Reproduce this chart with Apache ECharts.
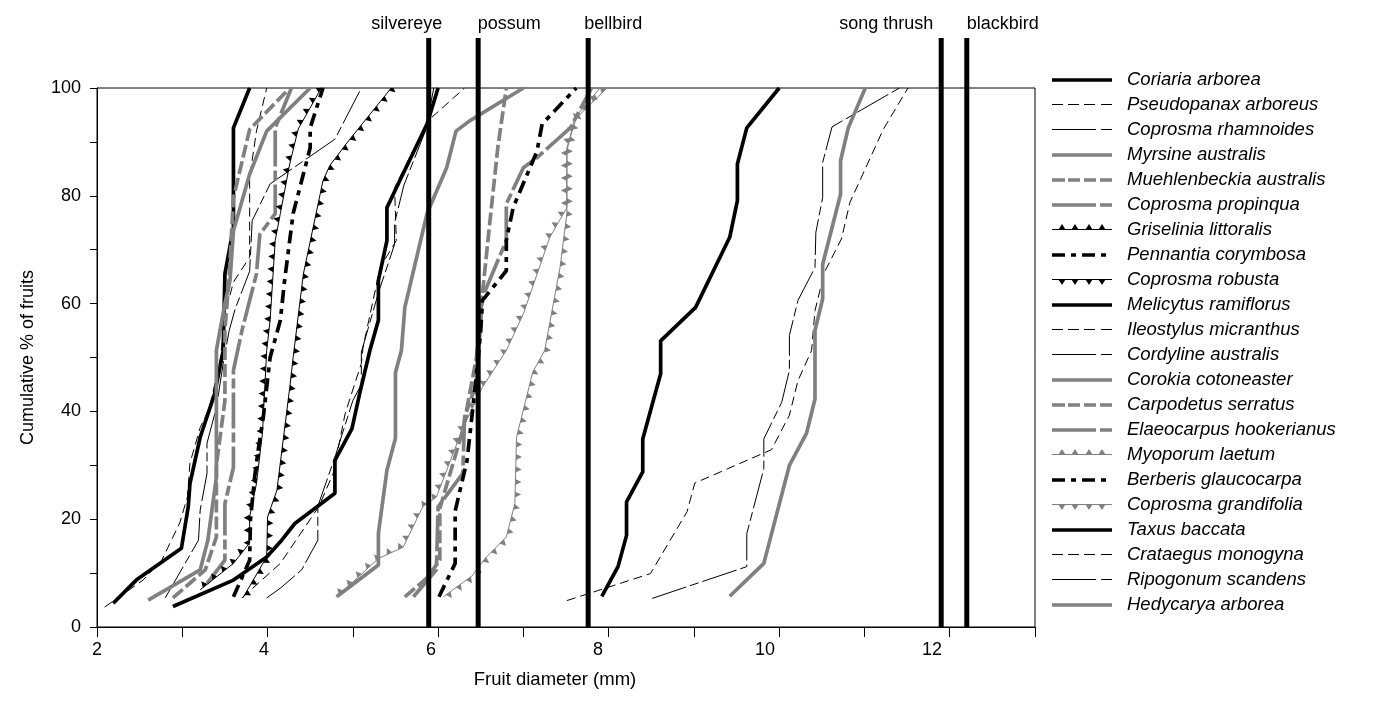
<!DOCTYPE html>
<html><head><meta charset="utf-8">
<script src="https://cdn.jsdelivr.net/npm/echarts@6/dist/echarts.min.js"></script>
<style>html,body{margin:0;padding:0;background:#fff}#c{width:1380px;height:708px}</style>
</head><body><div id="c"></div>
<script>
// ---- data (fruit diameter mm, cumulative %) ----
const coriariaArborea = [[2.19,4.4],[2.46,8.7],[2.99,14.6],[3.07,22.3],[3.09,26.6],[3.21,35.2],[3.38,43.3],[3.48,51.3],[3.50,65.5],[3.60,74.1],[3.60,92.6],[3.79,100]];
const pseudopanaxArboreus = [[2.09,3.7],[2.54,8.7],[2.76,12.4],[2.97,19.3],[3.06,24.1],[3.09,30.4],[3.21,37],[3.32,40.7],[3.45,50],[3.5,58],[3.6,64],[3.79,68.6],[3.79,83.4],[3.87,92],[3.99,100]];
const coprosmaRhamnoides = [[2.8,5.4],[3.19,16.1],[3.21,21.7],[3.29,28.5],[3.29,34.1],[3.4,40.7],[3.48,48.9],[3.55,55],[3.62,59],[3.79,66],[3.82,75.4],[4.03,82.2],[4.79,90.5],[5.1,100]];
const myrsineAustralis = [[2.6,5],[3.21,10.6],[3.3,16.1],[3.4,27.8],[3.4,51.3],[3.5,60],[3.56,64.3],[3.6,73.5],[3.79,84],[3.99,92],[4.5,100]];
const muehlenbeckiaAustralis = [[2.89,5.4],[3.27,10.6],[3.4,16.7],[3.4,30],[3.5,42],[3.5,55],[3.55,65],[3.6,79.6],[3.79,92.3],[4.26,100]];
const coprosmaPropinqua = [[3.29,8.1],[3.5,12.4],[3.5,22.9],[3.6,29.6],[3.6,47.6],[3.7,55],[3.87,65.5],[3.91,72.9],[4.09,76.7],[4.09,92.6],[4.28,100]];
const griseliniaLittoralis = [[3.21,6.9],[3.60,11.8],[3.79,15.6],[3.79,20.4],[3.87,26.6],[3.94,35.9],[3.99,51.3],[4.03,56.9],[4.06,64.3],[4.09,71.7],[4.15,76.7],[4.26,85.9],[4.36,92.4],[4.63,100]];
const pennantiaCorymbosa = [[3.60,5.6],[3.79,12.4],[3.80,20],[3.85,28],[3.89,32.8],[3.95,38.9],[4.03,50],[4.15,56.9],[4.20,64.3],[4.30,76.7],[4.50,88.9],[4.50,92.6],[4.65,100]];
const coprosmaRobusta = [[3.71,5.4],[3.99,13],[4.0,20.4],[4.11,25.4],[4.26,44.4],[4.30,50],[4.42,65.5],[4.65,82.8],[4.73,85.6],[4.93,89.8],[5.45,100]];
const melicytusRamiflorus = [[2.89,3.8],[3.6,8.7],[3.99,13],[4.15,15.8],[4.32,19.2],[4.79,24.8],[4.79,30.9],[4.99,36.8],[5.08,43.3],[5.2,51.3],[5.3,56.9],[5.3,64.3],[5.4,71.7],[5.4,77.8],[5.55,82.8],[5.87,93.3],[6.0,100]];
const ileostylusMicranthus = [[3.7,5.4],[4.15,11.8],[4.6,22.3],[4.77,28.5],[4.91,39.6],[5.1,48.9],[5.12,51.9],[5.32,66.7],[5.51,71.7],[5.49,81.5],[5.88,93.9],[6.31,100]];
const cordylineAustralis = [[3.99,5.4],[4.15,7.2],[4.4,10.6],[4.59,16.1],[4.59,22.4],[4.8,32],[5.0,42],[5.1,45],[5.1,51],[5.3,62],[5.49,71],[5.49,75],[5.6,82],[5.85,92],[5.95,100]];
const corokiaCotoneaster = [[4.81,5.6],[5.3,11.5],[5.3,17.4],[5.4,29.1],[5.5,35],[5.5,47.2],[5.57,51.3],[5.61,59.3],[5.87,76.7],[6.1,85.2],[6.21,92],[6.37,93.9],[7.0,100]];
const carpodetusSerratus = [[5.61,5.6],[5.87,9.1],[6.02,12.4],[6.02,22],[6.29,36.5],[6.45,50],[6.52,61.8],[6.6,74.1],[6.7,88.9],[6.8,100]];
const elaeocarpusHookerianus = [[5.71,5.6],[5.98,10.6],[6.0,22.3],[6.29,28.5],[6.31,38.9],[6.45,45.2],[6.52,61.2],[6.8,71.7],[6.8,78.5],[7.0,85.2],[7.16,87.1],[7.55,92.6],[7.74,98.2],[7.8,100]];
const myoporumLaetum = [[4.81,5.6],[5.3,12.7],[5.59,14.8],[5.82,22.3],[5.98,24.1],[6.28,36.5],[6.52,44.5],[6.8,51.3],[7.0,58.1],[7.31,72.3],[7.51,77.8],[7.51,88.9],[7.62,94.4],[7.98,100]];
const berberisGlaucocarpa = [[6.01,5.6],[6.2,11.8],[6.2,21.5],[6.34,30.9],[6.43,43.9],[6.5,55],[6.52,60.6],[6.8,66.1],[6.8,71.7],[6.88,77.8],[7.16,88.3],[7.22,93.3],[7.62,100]];
const coprosmaGrandifolia = [[6.06,5.6],[6.4,9.5],[6.55,12.7],[6.8,16.7],[6.9,22.9],[6.92,35.2],[7.11,47.3],[7.25,51.3],[7.43,66.7],[7.51,76.7],[7.51,88.3],[7.6,94.4],[7.9,100]];
const taxusBaccata = [[7.92,5.7],[8.11,11.2],[8.21,17],[8.21,23.2],[8.40,28.8],[8.40,34.9],[8.61,47],[8.61,53.1],[9.02,59.3],[9.42,72.3],[9.51,79.1],[9.51,85.9],[9.62,92.6],[10.0,100]];
const crataegusMonogyna = [[7.51,4.9],[8.49,9.9],[8.92,21.4],[9.01,26.7],[9.91,32.9],[10.12,39.3],[10.22,45.7],[10.38,51.3],[10.42,58.7],[10.53,65.8],[10.73,72],[10.83,78.8],[11.22,92.3],[11.51,100]];
const ripogonumScandens = [[8.51,5.3],[9.62,11.2],[9.62,17.3],[9.82,29.4],[9.82,34.9],[10.03,41.7],[10.12,47.6],[10.12,54.1],[10.22,60.6],[10.42,66.7],[10.43,73.2],[10.51,79.7],[10.51,86.2],[10.62,92.8],[11.41,100]];
const hedycaryaArborea = [[9.42,5.7],[9.82,11.8],[10.12,30],[10.32,35.9],[10.42,42.3],[10.42,55],[10.51,60.9],[10.51,67.3],[10.72,80.3],[10.72,86.5],[10.81,92.6],[11.01,100]];

const birdNames = ['silvereye','possum','bellbird','song thrush','blackbird'];
const birdGape = [5.89, 6.47, 7.76, 11.9, 12.2];

const xTicks = [2,4,6,8,10,12];
const yTicks = [0,20,40,60,80,100];

// ---- styles ----
const BLACK = '#000000', GRAY = '#808080';
const thickW = 3.7;
const birdLabelDx = [-22, 31, 25, -55, 36];
const S = {
  solidB:  {color: BLACK, width: thickW, type: 'solid', icon: [[0,60]]},
  dashThin:{color: BLACK, width: 1, type: [9,5], icon: [[0,11],[16,27],[32,43],[49,60]]},
  longThin:{color: BLACK, width: 1, type: [36,4,9,4], icon: [[0,44],[49,60]]},
  solidG:  {color: GRAY, width: thickW, type: 'solid', icon: [[0,60]]},
  dashG:   {color: GRAY, width: thickW, type: [13,4], icon: [[0,13],[16,28],[32,44],[48,60]]},
  longG:   {color: GRAY, width: thickW, type: [36,4,10,4], icon: [[0,44],[48,60]]},
  triB:    {color: BLACK, width: 1, type: 'solid', icon: [[0,60]]},
  dashDot: {color: BLACK, width: thickW, type: [13,6,5,6], icon: [[0,13],[19,24],[30,43],[49,54]]},
  triG:    {color: GRAY, width: 1, type: 'solid', icon: [[0,60]]}
};
const speciesList = [
  ['Coriaria arborea', coriariaArborea, 'solidB'],
  ['Pseudopanax arboreus', pseudopanaxArboreus, 'dashThin'],
  ['Coprosma rhamnoides', coprosmaRhamnoides, 'longThin'],
  ['Myrsine australis', myrsineAustralis, 'solidG'],
  ['Muehlenbeckia australis', muehlenbeckiaAustralis, 'dashG'],
  ['Coprosma propinqua', coprosmaPropinqua, 'longG'],
  ['Griselinia littoralis', griseliniaLittoralis, 'triB', 1],
  ['Pennantia corymbosa', pennantiaCorymbosa, 'dashDot'],
  ['Coprosma robusta', coprosmaRobusta, 'triB', -1],
  ['Melicytus ramiflorus', melicytusRamiflorus, 'solidB'],
  ['Ileostylus micranthus', ileostylusMicranthus, 'dashThin'],
  ['Cordyline australis', cordylineAustralis, 'longThin'],
  ['Corokia cotoneaster', corokiaCotoneaster, 'solidG'],
  ['Carpodetus serratus', carpodetusSerratus, 'dashG'],
  ['Elaeocarpus hookerianus', elaeocarpusHookerianus, 'longG'],
  ['Myoporum laetum', myoporumLaetum, 'triG', 1],
  ['Berberis glaucocarpa', berberisGlaucocarpa, 'dashDot'],
  ['Coprosma grandifolia', coprosmaGrandifolia, 'triG', -1],
  ['Taxus baccata', taxusBaccata, 'solidB'],
  ['Crataegus monogyna', crataegusMonogyna, 'dashThin'],
  ['Ripogonum scandens', ripogonumScandens, 'longThin'],
  ['Hedycarya arborea', hedycaryaArborea, 'solidG']
];

const FONT = '"Liberation Sans", Arial, sans-serif';
const LEG_W = 60, LEG_H = 20;

// legend icon as a filled path inside a LEG_W x LEG_H box
function legendIconPath(st, side) {
  const c = LEG_H / 2;
  const y0 = st.width <= 1 ? c - 1 : c - st.width / 2;
  const y1 = st.width <= 1 ? c : c + st.width / 2;
  let p = 'M0,0 L0,0 Z M' + LEG_W + ',' + LEG_H + ' L' + LEG_W + ',' + LEG_H + ' Z ';
  st.icon.forEach(function (seg) {
    p += 'M' + seg[0] + ',' + y0 + ' L' + seg[1] + ',' + y0 + ' L' + seg[1] + ',' + y1 + ' L' + seg[0] + ',' + y1 + ' Z ';
  });
  if (side) {
    [10, 23, 37, 50].forEach(function (cx) {
      const base = side > 0 ? y0 : y1;
      const apex = side > 0 ? y0 - 5 : y1 + 5;
      p += 'M' + (cx - 3.2) + ',' + base + ' L' + (cx + 3.2) + ',' + base + ' L' + cx + ',' + apex + ' Z ';
    });
  }
  return 'path://' + p;
}

function triDecoration(points, side, color) {
  return {
    type: 'custom', silent: true, z: 3, clip: true,
    data: points,
    renderItem: function (params, api) {
      if (params.dataIndex !== 0) return null;
      const pts = points.map(p => api.coord(p));
      const children = [];
      const spacing = 12.5, h = 6, w = 3;
      let dist = spacing / 2;
      for (let i = 0; i < pts.length - 1; i++) {
        const x0 = pts[i][0], y0 = pts[i][1], x1 = pts[i+1][0], y1 = pts[i+1][1];
        const dx = x1 - x0, dy = y1 - y0, L = Math.hypot(dx, dy);
        if (L === 0) continue;
        const ux = dx / L, uy = dy / L;
        const nx = uy * side, ny = -ux * side;
        while (dist <= L) {
          const cx = x0 + ux * dist, cy = y0 + uy * dist;
          children.push({
            type: 'polygon',
            shape: {points: [[cx - ux * w, cy - uy * w], [cx + ux * w, cy + uy * w], [cx + nx * h, cy + ny * h]]},
            style: {fill: color}
          });
          dist += spacing;
        }
        dist -= L;
      }
      return {type: 'group', children: children};
    }
  };
}

const series = [];
speciesList.forEach(function (sp) {
  const st = S[sp[2]];
  series.push({
    name: sp[0], type: 'line', data: sp[1], symbol: 'none', showSymbol: false,
    lineStyle: {color: st.color, width: st.width, type: st.type},
    itemStyle: {color: st.color, borderWidth: 0},
    z: 2, animation: false
  });
  if (sp[3]) series.push(triDecoration(sp[1], sp[3], st.color));
});

series.push({
  type: 'custom', silent: true, z: 10, clip: false,
  data: birdGape.map((g, i) => [g, 0, i]),
  renderItem: function (params, api) {
    const g = api.value(0), idx = api.value(2);
    const pBot = api.coord([g, 0]), pTop = api.coord([g, 100]);
    return {
      type: 'group', children: [
        {type: 'line', shape: {x1: pBot[0], y1: pBot[1], x2: pTop[0], y2: pTop[1] - 50},
         style: {stroke: '#000', lineWidth: 5}},
        {type: 'text', style: {text: birdNames[idx], x: pTop[0] + birdLabelDx[idx], y: pTop[1] - 64, align: 'center', verticalAlign: 'middle',
          font: '18px ' + FONT, fill: '#000'}}
      ]
    };
  }
});

const chart = echarts.init(document.getElementById('c'), null, {renderer: 'canvas'});
chart.setOption({
  animation: false,
  backgroundColor: '#fff',
  grid: {left: 97, right: 345, top: 88, bottom: 81, show: true, borderColor: '#000', borderWidth: 1, outerBoundsMode: 'none', containLabel: false},
  xAxis: [{
    type: 'value', min: 2, max: 13, interval: 1,
    axisLine: {show: true, lineStyle: {color: '#000', width: 1}},
    axisTick: {show: true, length: 10, lineStyle: {color: '#000'}},
    axisLabel: {show: false},
    splitLine: {show: false}
  }, {
    // label layer of the original figure (labels slightly compressed relative to ticks)
    type: 'value', min: 2, max: 13.233, interval: 2, position: 'bottom',
    name: 'Fruit diameter (mm)', nameLocation: 'middle', nameGap: 43,
    nameTextStyle: {fontFamily: FONT, fontSize: 18.5, color: '#000', padding: [0, 22, 0, 0]},
    axisLine: {show: false}, axisTick: {show: false},
    axisLabel: {fontFamily: FONT, fontSize: 18, color: '#000', margin: 14,
      formatter: v => xTicks.indexOf(v) >= 0 ? String(v) : ''},
    splitLine: {show: false}
  }],
  yAxis: {
    type: 'value', min: 0, max: 100, interval: 10,
    name: 'Cumulative % of fruits', nameLocation: 'middle', nameGap: 60,
    nameTextStyle: {fontFamily: FONT, fontSize: 18, color: '#000'},
    axisLine: {show: true, lineStyle: {color: '#000', width: 1}},
    axisTick: {show: true, length: 7, lineStyle: {color: '#000'}},
    axisLabel: {fontFamily: FONT, fontSize: 18, color: '#000', margin: 16,
      formatter: v => yTicks.indexOf(v) >= 0 ? String(v) : ''},
    splitLine: {show: false}
  },
  legend: {
    orient: 'vertical', left: 1047, top: 65,
    itemWidth: LEG_W, itemHeight: LEG_H, itemGap: 5,
    data: speciesList.map(s => ({name: s[0], icon: legendIconPath(S[s[2]], s[3]), itemStyle: {color: S[s[2]].color, borderWidth: 0}})),
    textStyle: {fontFamily: FONT, fontSize: 18.5, fontStyle: 'italic', color: '#000', padding: [0, 0, 0, 10]},
    selectedMode: false
  },
  series: series
});
</script></body></html>
